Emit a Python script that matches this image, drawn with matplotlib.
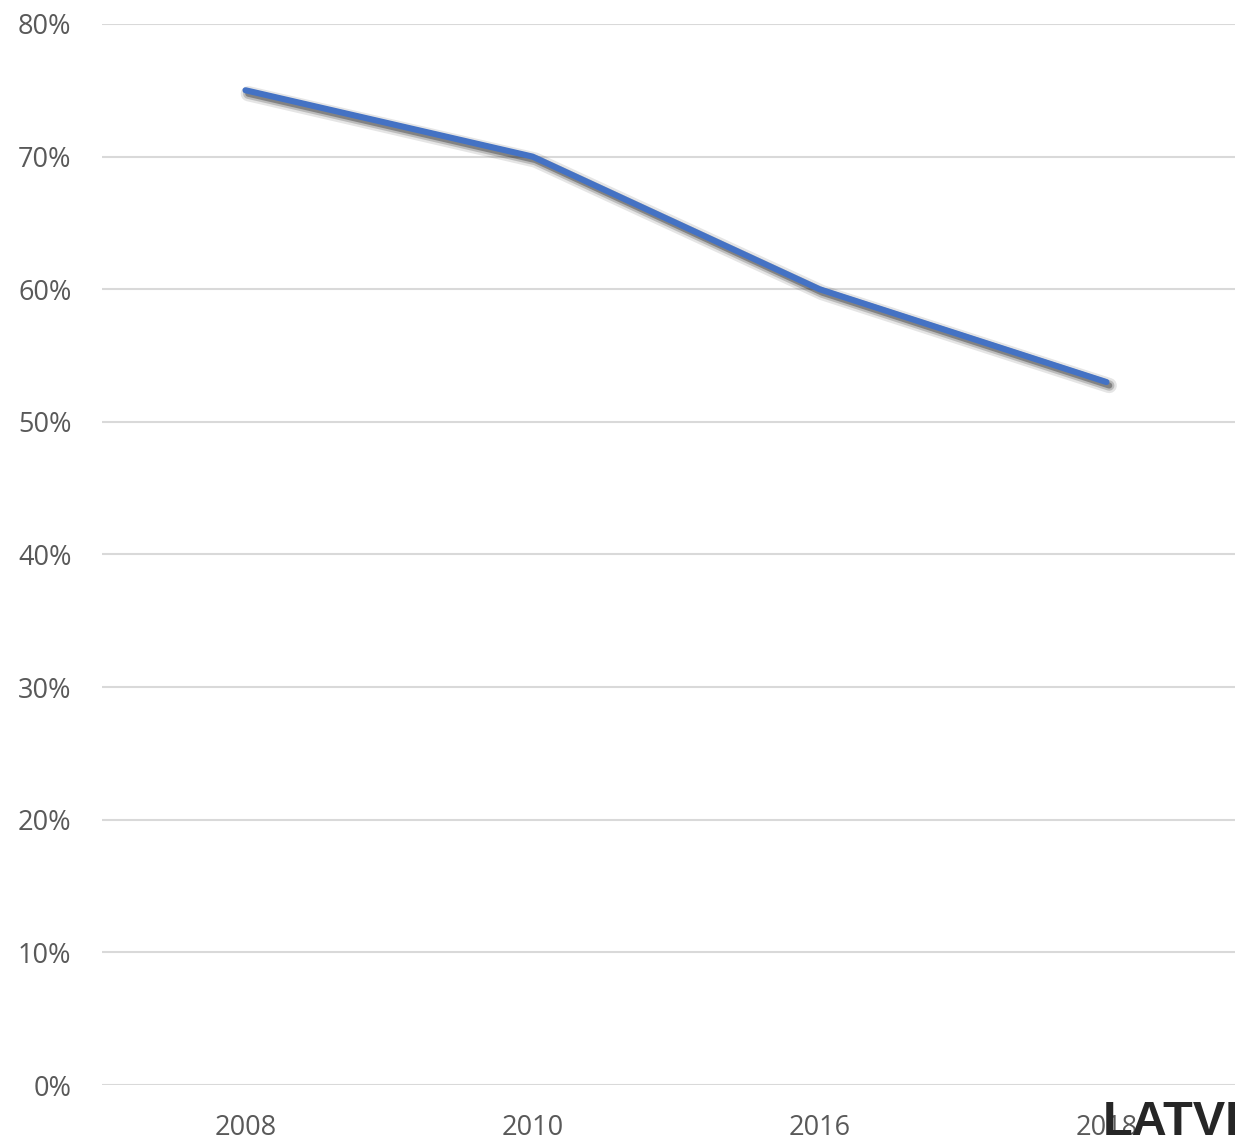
"""Line chart: share by year (percent), with a soft drop shadow on the line."""

import matplotlib.pyplot as plt
import matplotlib.patheffects as pe
from matplotlib.ticker import FuncFormatter

years = ["2008", "2010", "2016", "2018"]
share = [75, 70, 60, 53]
y_ticks = [0, 10, 20, 30, 40, 50, 60, 70, 80]

LINE_COLOR = "#4472C4"
GRID_COLOR = "#D9D9D9"
TEXT_COLOR = "#595959"

plt.rcParams["font.family"] = ["Open Sans", "DejaVu Sans"]

fig = plt.figure(figsize=(12.35, 11.4), dpi=100)
ax = fig.add_axes([0.0826, 0.0482, 1.0121 - 0.0826, 0.979 - 0.0482])

x = range(len(years))
shadow = dict(offset=(2.0, -2.5), shadow_color="#000000")
ax.plot(
    x, share, color=LINE_COLOR, lw=4.4, solid_capstyle="round", solid_joinstyle="round",
    path_effects=[
        pe.SimpleLineShadow(alpha=0.10, linewidth=11, **shadow),
        pe.SimpleLineShadow(alpha=0.18, linewidth=7.5, **shadow),
        pe.SimpleLineShadow(alpha=0.30, linewidth=4.4, **shadow),
        pe.Normal(),
    ],
    zorder=3,
)

ax.set_xlim(-0.5, len(years) - 0.5)
ax.set_ylim(0, 80)
ax.set_xticks(list(x))
ax.set_xticklabels(years)
ax.set_yticks(y_ticks)
ax.yaxis.set_major_formatter(FuncFormatter(lambda v, _: f"{v:.0f}%"))

ax.grid(axis="y", color=GRID_COLOR, lw=1.5)
ax.set_axisbelow(True)
for s in ax.spines.values():
    s.set_visible(False)
ax.tick_params(length=0, labelsize=19.5, colors=TEXT_COLOR)
ax.tick_params(axis="x", pad=21)
ax.tick_params(axis="y", pad=22)

fig.text(1103 / 1235, 5 / 1140, "LATVIA", family="Liberation Sans", fontsize=35,
         fontweight="bold", color="#262626", va="baseline", ha="left")

fig.savefig("out.png", dpi=100)
